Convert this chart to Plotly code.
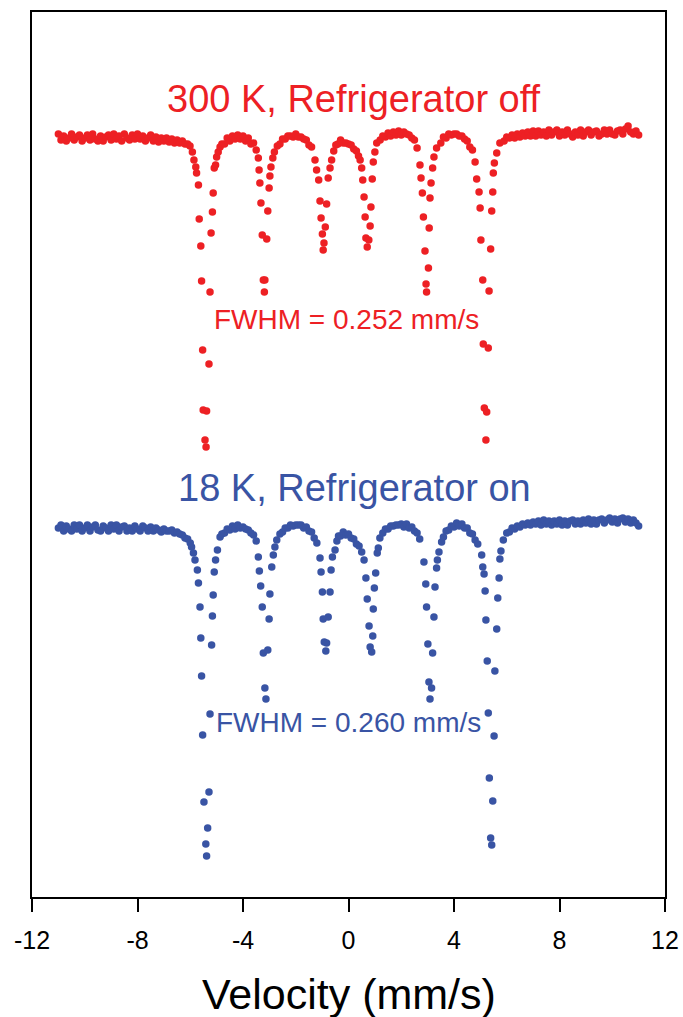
import plotly.graph_objects as go

# ---------------- data ----------------
# velocity in mm/s, transmission in arbitrary units (spectra offset vertically)
red_velocity = [
    -11.0, -10.9, -10.8, -10.7, -10.6, -10.5, -10.4, -10.3, -10.2, -10.1,
    -10.0, -9.9, -9.8, -9.7, -9.6, -9.5, -9.4, -9.3, -9.2, -9.1,
    -9.0, -8.9, -8.8, -8.7, -8.6, -8.5, -8.4, -8.3, -8.2, -8.1,
    -8.0, -7.9, -7.8, -7.7, -7.6, -7.5, -7.4, -7.3, -7.2, -7.1,
    -7.0, -6.9, -6.8, -6.7, -6.6, -6.5, -6.4, -6.3, -6.2, -6.1,
    -6.01, -5.92, -5.86, -5.79, -5.76, -5.69, -5.66, -5.60, -5.57, -5.53, -5.51, -5.44,
    -5.40, -5.38, -5.29, -5.25, -5.21, -5.16, -5.13, -5.09, -5.04, -5.00, -4.94, -4.87,
    -4.8, -4.7, -4.6, -4.5, -4.4, -4.3, -4.2, -4.1, -4.0, -3.9, -3.8, -3.7, -3.6, -3.5,
    -3.42, -3.39, -3.36, -3.32, -3.27, -3.23, -3.19, -3.17, -3.10, -3.06, -3.01, -2.98, -2.94, -2.87, -2.81,
    -2.7, -2.6, -2.5, -2.4, -2.3, -2.2, -2.1, -2.0, -1.9, -1.8, -1.7, -1.6, -1.5, -1.4,
    -1.27, -1.21, -1.13, -1.08, -1.04, -0.99, -0.96, -0.93, -0.88, -0.83, -0.77, -0.70, -0.64,
    -0.56, -0.48, -0.4, -0.3, -0.2, -0.1, 0.0, 0.1, 0.2, 0.3, 0.38,
    0.44, 0.50, 0.54, 0.59, 0.63, 0.66, 0.71, 0.77, 0.82, 0.85, 0.90, 0.94, 1.00, 1.07,
    1.2, 1.3, 1.4, 1.5, 1.6, 1.7, 1.8, 1.9, 2.0, 2.1, 2.2, 2.3, 2.4, 2.5, 2.6,
    2.71, 2.75, 2.80, 2.84, 2.90, 2.94, 2.96, 3.03, 3.06, 3.09, 3.13, 3.19, 3.24, 3.34,
    3.5, 3.6, 3.7, 3.8, 3.9, 4.0, 4.1, 4.2, 4.3, 4.4, 4.5, 4.6, 4.7,
    4.80, 4.86, 4.95, 4.99, 5.02, 5.09, 5.11, 5.15, 5.21, 5.24, 5.30, 5.33, 5.39, 5.43,
    5.47, 5.49, 5.53, 5.62, 5.74,
    5.9, 6.0, 6.1, 6.2, 6.3, 6.4, 6.5, 6.6, 6.7, 6.8,
    6.9, 7.0, 7.1, 7.2, 7.3, 7.4, 7.5, 7.6, 7.7, 7.8,
    7.9, 8.0, 8.1, 8.2, 8.3, 8.4, 8.5, 8.6, 8.7, 8.8,
    8.9, 9.0, 9.1, 9.2, 9.3, 9.4, 9.5, 9.6, 9.7, 9.8,
    9.9, 10.0, 10.1, 10.2, 10.3, 10.4, 10.5, 10.6, 10.7, 10.8,
    10.9, 11.0,
]
red_signal = [
    76.3, 75.7, 76.1, 75.6, 75.9, 76.3, 75.7, 76.0, 76.2, 75.6,
    75.9, 76.2, 75.7, 76.3, 75.8, 75.6, 76.1, 75.6, 76.0, 76.2,
    75.7, 76.3, 75.8, 76.1, 75.6, 76.3, 75.9, 75.7, 76.2, 75.8,
    76.3, 75.8, 76.1, 75.6, 75.9, 76.2, 75.6, 76.0, 75.5, 75.9,
    75.6, 75.9, 75.5, 75.8, 75.4, 75.7, 75.4, 75.6, 75.3, 75.3,
    75.1, 74.5, 73.7, 73.0, 72.4, 71.2, 67.8, 65.1, 61.6, 54.7, 48.7, 45.7,
    45.0, 48.6, 53.3, 60.5, 66.4, 68.5, 70.4, 72.9, 73.2, 74.0, 74.5, 75.0,
    75.3, 75.3, 75.9, 75.6, 76.1, 75.8, 76.2, 75.8, 76.1, 75.6, 75.9, 75.3, 75.4, 74.7,
    73.9, 72.7, 71.4, 69.4, 66.2, 61.7, 60.5, 61.7, 65.8, 68.6, 70.9, 72.1, 73.0, 73.9, 74.5,
    75.1, 75.3, 75.8, 75.8, 76.1, 76.1, 76.0, 76.3, 76.0, 76.0, 75.8, 75.7, 75.2, 75.0,
    73.7, 72.7, 71.7, 69.6, 67.9, 66.3, 64.7, 65.4, 67.0, 69.3, 71.9, 72.9, 73.7,
    74.6, 75.2, 75.3, 75.7, 75.4, 75.4, 75.3, 75.2, 74.8, 74.6, 74.1,
    73.7, 72.9, 71.7, 70.0, 68.0, 65.9, 65.0, 65.7, 67.1, 69.0, 71.8, 73.5, 74.5, 75.4,
    75.7, 76.1, 76.0, 76.4, 76.1, 76.5, 76.2, 76.6, 76.2, 76.5, 76.3, 76.2, 75.9, 75.7, 74.9,
    73.2, 71.9, 70.4, 68.0, 64.6, 61.3, 60.5, 62.9, 66.9, 69.9, 71.4, 72.9, 74.0, 74.9,
    75.4, 76.0, 75.9, 76.3, 76.2, 76.3, 76.3, 76.1, 76.1, 75.8, 75.6, 75.0, 74.7,
    73.5, 71.8, 70.5, 68.9, 65.7, 61.7, 55.3, 48.9, 45.7, 48.5, 54.9, 60.6, 64.8, 68.6,
    70.5, 72.4, 73.4, 74.4, 75.4,
    75.6, 76.0, 75.9, 76.2, 75.9, 76.3, 76.0, 76.4, 76.1, 76.5,
    76.1, 76.6, 76.1, 76.6, 76.2, 76.5, 76.1, 76.7, 76.2, 76.5,
    76.7, 76.1, 76.5, 76.2, 76.7, 76.3, 76.0, 76.5, 76.2, 76.7,
    76.1, 76.5, 76.7, 76.2, 76.5, 76.6, 76.1, 76.3, 76.7, 76.3,
    76.7, 76.3, 76.2, 76.6, 76.7, 76.3, 76.8, 77.1, 76.5, 76.3,
    76.6, 76.2,
]

blue_velocity = [
    -11.0, -10.9, -10.8, -10.7, -10.6, -10.5, -10.4, -10.3, -10.2, -10.1,
    -10.0, -9.9, -9.8, -9.7, -9.6, -9.5, -9.4, -9.3, -9.2, -9.1,
    -9.0, -8.9, -8.8, -8.7, -8.6, -8.5, -8.4, -8.3, -8.2, -8.1,
    -8.0, -7.9, -7.8, -7.7, -7.6, -7.5, -7.4, -7.3, -7.2, -7.1,
    -7.0, -6.9, -6.8, -6.7, -6.6, -6.5, -6.4, -6.3, -6.2, -6.1,
    -6.0, -5.95, -5.88,
    -5.82, -5.73, -5.69, -5.63, -5.60, -5.57, -5.53, -5.48, -5.41, -5.38,
    -5.34, -5.29, -5.25, -5.19, -5.16, -5.13, -5.09, -5.04, -4.97, -4.87,
    -4.8, -4.7, -4.6, -4.5, -4.4, -4.3, -4.2, -4.1, -4.0, -3.9, -3.8, -3.7, -3.6, -3.5,
    -3.42, -3.38, -3.33, -3.27, -3.23, -3.17, -3.13, -3.06, -3.01, -2.98, -2.91, -2.85, -2.79, -2.72,
    -2.6, -2.5, -2.4, -2.3, -2.2, -2.1, -2.0, -1.9, -1.8, -1.7, -1.6, -1.5, -1.4, -1.3, -1.2,
    -1.08, -1.04, -0.99, -0.96, -0.92, -0.86, -0.83, -0.77, -0.70, -0.66, -0.61, -0.51,
    -0.44, -0.38, -0.3, -0.2, -0.1, 0.0, 0.1, 0.2, 0.3, 0.4, 0.5,
    0.59, 0.66, 0.71, 0.78, 0.82, 0.88, 0.92, 0.94, 0.98, 1.03, 1.09, 1.13, 1.19,
    1.3, 1.4, 1.5, 1.6, 1.7, 1.8, 1.9, 2.0, 2.1, 2.2, 2.3, 2.4, 2.5, 2.6, 2.7,
    2.86, 2.93, 2.96, 3.01, 3.05, 3.09, 3.15, 3.19, 3.24, 3.28, 3.34, 3.37, 3.43, 3.53,
    3.6, 3.7, 3.8, 3.9, 4.0, 4.1, 4.2, 4.3, 4.4, 4.5, 4.6, 4.7, 4.8, 4.9,
    5.05, 5.09, 5.14, 5.18, 5.21, 5.26, 5.30, 5.34, 5.39, 5.43,
    5.47, 5.52, 5.55, 5.62, 5.66, 5.71, 5.74, 5.78, 5.87, 6.00,
    6.1, 6.2, 6.3, 6.4, 6.5, 6.6, 6.7, 6.8, 6.9, 7.0,
    7.1, 7.2, 7.3, 7.4, 7.5, 7.6, 7.7, 7.8, 7.9, 8.0,
    8.1, 8.2, 8.3, 8.4, 8.5, 8.6, 8.7, 8.8, 8.9, 9.0,
    9.1, 9.2, 9.3, 9.4, 9.5, 9.6, 9.7, 9.8, 9.9, 10.0,
    10.1, 10.2, 10.3, 10.4, 10.5, 10.6, 10.7, 10.8, 10.9, 11.0,
]
blue_signal = [
    36.9, 37.2, 36.6, 37.1, 36.8, 36.6, 37.2, 36.8, 37.2, 36.6,
    36.9, 37.2, 36.6, 37.0, 37.2, 36.7, 36.6, 37.1, 36.9, 36.6,
    37.2, 36.8, 37.2, 36.6, 37.0, 37.1, 36.6, 36.9, 36.6, 37.1,
    36.8, 36.6, 37.1, 36.9, 36.6, 37.0, 36.6, 36.9, 36.7, 36.5,
    36.8, 36.6, 36.6, 36.7, 36.4, 36.5, 36.3, 36.2, 35.9, 35.8,
    35.4, 35.0, 34.4,
    33.7, 32.7, 31.4, 29.0, 25.9, 22.1, 16.2, 9.5, 5.3, 4.1,
    6.9, 10.5, 18.3, 25.2, 28.1, 30.2, 32.5, 33.7, 34.7, 36.0,
    36.3, 36.4, 36.8, 36.7, 37.1, 36.8, 37.2, 36.9, 37.0, 36.8, 36.7, 36.4, 36.2, 35.6,
    34.0, 32.6, 31.1, 29.0, 24.4, 20.9, 19.8, 24.7, 27.8, 30.3, 33.0, 34.2, 35.0, 35.7,
    36.3, 36.5, 36.9, 36.9, 37.2, 37.1, 37.2, 37.2, 37.2, 36.9, 37.0, 36.6, 36.5, 35.9, 35.4,
    33.9, 32.5, 30.5, 27.8, 25.5, 24.6, 25.4, 28.0, 30.5, 32.7, 34.0, 34.7,
    35.6, 36.1, 36.1, 36.5, 36.2, 36.3, 35.9, 35.8, 35.3, 35.1, 34.5,
    33.7, 31.9, 29.8, 27.1, 25.0, 24.5, 26.1, 28.8, 30.9, 32.4, 34.4, 34.9, 35.9,
    36.4, 36.8, 36.8, 37.1, 37.1, 37.2, 37.2, 37.3, 37.0, 37.3, 36.9, 37.0, 36.6, 36.4, 35.8,
    33.5, 31.3, 29.0, 25.3, 21.5, 19.8, 20.9, 24.4, 28.0, 31.0, 32.9, 33.7, 34.5, 35.5,
    36.0, 36.6, 36.7, 37.1, 37.0, 37.4, 37.1, 37.3, 36.9, 36.9, 36.4, 36.3, 35.7, 35.3,
    34.2, 33.0, 32.3, 30.6, 27.7, 23.6, 18.4, 11.9, 5.9, 5.2,
    9.6, 16.1, 22.6, 26.8, 29.9, 31.9, 33.8, 34.6, 35.7, 36.4,
    36.5, 36.9, 36.8, 37.1, 37.0, 37.3, 37.2, 37.4, 37.2, 37.5,
    37.3, 37.6, 37.2, 37.7, 37.3, 37.6, 37.2, 37.6, 37.3, 37.7,
    37.2, 37.6, 37.2, 37.6, 37.7, 37.3, 37.6, 37.3, 37.7, 37.4,
    37.8, 37.3, 37.7, 37.3, 37.7, 37.8, 37.4, 37.7, 37.9, 37.5,
    37.8, 37.4, 37.8, 37.9, 37.5, 37.8, 37.4, 37.7, 37.4, 37.1,
]

x_ticks = [-12, -8, -4, 0, 4, 8, 12]
red_label = "300 K, Refrigerator off"
red_fwhm = "FWHM = 0.252 mm/s"
blue_label = "18 K, Refrigerator on"
blue_fwhm = "FWHM = 0.260 mm/s"

RED = "rgb(237,32,36)"
BLUE = "rgb(57,84,164)"
FONT = "Liberation Sans, Arial, Helvetica, sans-serif"

fig = go.Figure()
fig.add_trace(go.Scatter(x=red_velocity, y=red_signal, mode="markers",
                         marker=dict(size=7.5, color=RED, line=dict(width=0)),
                         showlegend=False))
fig.add_trace(go.Scatter(x=blue_velocity, y=blue_signal, mode="markers",
                         marker=dict(size=7.5, color=BLUE, line=dict(width=0)),
                         showlegend=False))

annotations = [
    dict(x=0.21, y=79.8, text=red_label, font=dict(size=38, color=RED, family=FONT)),
    dict(x=-0.06, y=57.8, text=red_fwhm, font=dict(size=28, color=RED, family=FONT)),
    dict(x=0.21, y=40.9, text=blue_label, font=dict(size=38, color=BLUE, family=FONT)),
    dict(x=0.0, y=17.5, text=blue_fwhm, font=dict(size=28, color=BLUE, family=FONT)),
]
for a in annotations:
    a.update(xref="x", yref="y", showarrow=False, xanchor="center", yanchor="middle")
annotations.append(dict(x=0.0, xref="x", y=-0.1095, yref="paper", text="Velocity (mm/s)",
                        showarrow=False, xanchor="center", yanchor="middle",
                        font=dict(size=43, color="black", family=FONT)))

fig.update_layout(
    width=683, height=1017,
    margin=dict(l=32, r=18, t=12, b=120, autoexpand=False),
    paper_bgcolor="white", plot_bgcolor="white",
    annotations=annotations,
    xaxis=dict(range=[-12, 12], tickvals=x_ticks, ticktext=[str(t) for t in x_ticks],
               ticks="outside", ticklen=13, tickwidth=2, tickcolor="black",
               ticklabelstandoff=7, automargin=False,
               showline=True, linewidth=2, linecolor="black", mirror=True,
               showgrid=False, zeroline=False,
               tickfont=dict(size=25, color="black", family=FONT)),
    yaxis=dict(range=[0, 88.5], showticklabels=False, ticks="", automargin=False,
               showline=True, linewidth=2, linecolor="black", mirror=True,
               showgrid=False, zeroline=False),
)

fig.write_html(
    "out.html",
    config={"displayModeBar": False},
    post_script="document.body.style.margin='0';document.body.style.padding='0';"
                "document.documentElement.style.overflow='hidden';",
)
